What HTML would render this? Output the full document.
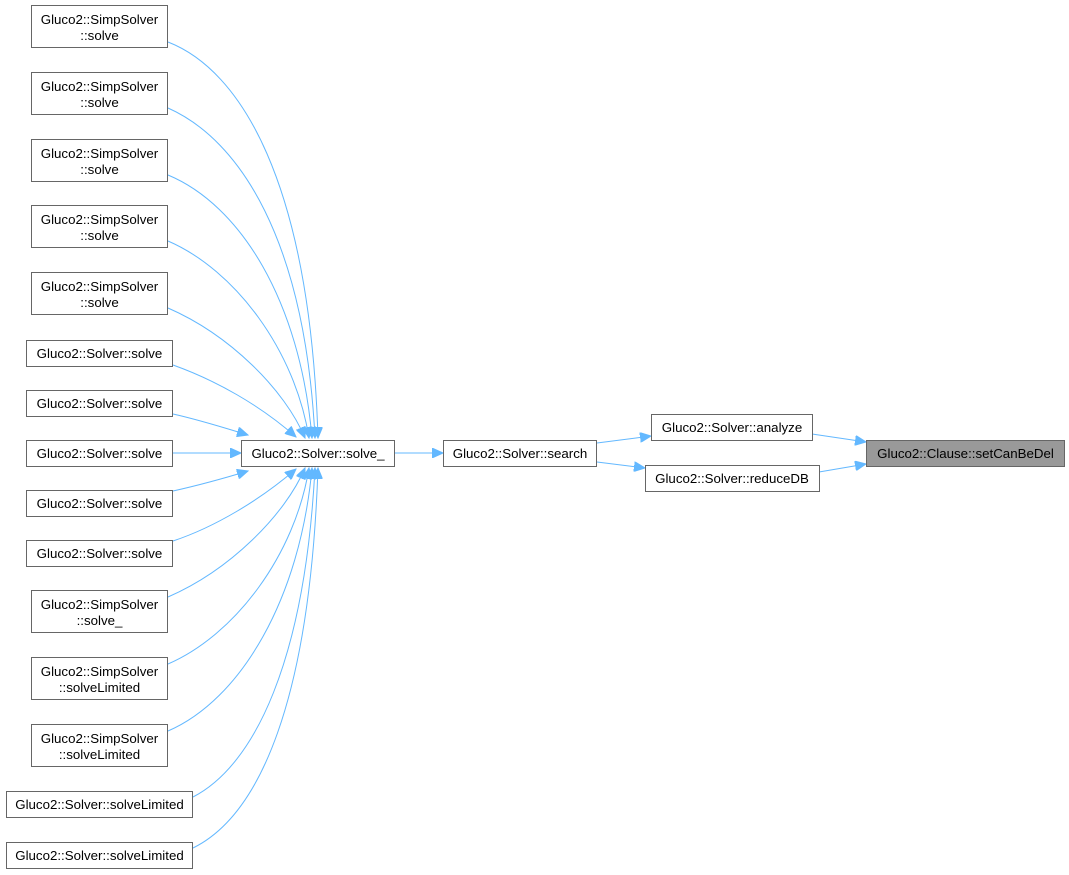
<!DOCTYPE html>
<html><head><meta charset="utf-8"><style>
html,body{margin:0;padding:0;background:#fff;}
svg{display:block}
text{font-family:"Liberation Sans",Arial,sans-serif;font-size:13.3px;fill:#000}
</style></head><body>
<svg width="1069" height="875" viewBox="0 0 1069 875" xmlns="http://www.w3.org/2000/svg">
<defs>
<marker id="a" markerWidth="12" markerHeight="10" refX="11" refY="5" orient="auto" markerUnits="userSpaceOnUse">
<path d="M0,0 L11,5 L0,10 z" fill="#63b8ff" stroke="#63b8ff"/>
</marker>
</defs>
<g fill="none" stroke="#63b8ff" stroke-width="1" marker-end="url(#a)">
<path d="M168,42 C240,70 310,180 318,438"/>
<path d="M168,108 C240,140 305,240 315,438"/>
<path d="M168,175 C240,205 300,300 312,438"/>
<path d="M168,241 C235,270 295,350 309,438"/>
<path d="M168,308 C230,335 285,390 305,438"/>
<path d="M173,365 C215,380 260,405 296,437"/>
<path d="M173,414 C200,420 225,428 248,435"/>
<path d="M173,453 L241,453"/>
<path d="M173,491 C200,485 225,478 248,471"/>
<path d="M173,541 C215,527 260,500 296,469"/>
<path d="M168,597 C230,570 285,515 305,468"/>
<path d="M168,664 C235,635 295,555 309,468"/>
<path d="M168,731 C240,700 300,600 312,468"/>
<path d="M193,797 C255,765 305,660 315,468"/>
<path d="M193,848 C260,815 310,700 318,468"/>
<path d="M395,453 L443,453"/>
<path d="M597,443 L651,436"/>
<path d="M597,462 L645,468"/>
<path d="M812,434 L866,442"/>
<path d="M819,472 L866,464"/>
</g>
<g stroke="#666" stroke-width="1" fill="#fff">
<rect x="31.5" y="5.5" width="136" height="42"/>
<rect x="31.5" y="72.5" width="136" height="42"/>
<rect x="31.5" y="139.5" width="136" height="42"/>
<rect x="31.5" y="205.5" width="136" height="42"/>
<rect x="31.5" y="272.5" width="136" height="42"/>
<rect x="26.5" y="340.5" width="146" height="26"/>
<rect x="26.5" y="390.5" width="146" height="26"/>
<rect x="26.5" y="440.5" width="146" height="26"/>
<rect x="26.5" y="490.5" width="146" height="26"/>
<rect x="26.5" y="540.5" width="146" height="26"/>
<rect x="31.5" y="590.5" width="136" height="42"/>
<rect x="31.5" y="657.5" width="136" height="42"/>
<rect x="31.5" y="724.5" width="136" height="42"/>
<rect x="6.5" y="791.5" width="186" height="26"/>
<rect x="6.5" y="842.5" width="186" height="26"/>
<rect x="241.5" y="440.5" width="153" height="26"/>
<rect x="443.5" y="440.5" width="153" height="26"/>
<rect x="651.5" y="414.5" width="161" height="26"/>
<rect x="645.5" y="465.5" width="174" height="26"/>
<rect x="866.5" y="440.5" width="198" height="26" fill="#999"/>
</g>
<g text-anchor="middle">
<text x="99.5" y="24">Gluco2::SimpSolver</text><text x="99.5" y="40">::solve</text>
<text x="99.5" y="91">Gluco2::SimpSolver</text><text x="99.5" y="107">::solve</text>
<text x="99.5" y="158">Gluco2::SimpSolver</text><text x="99.5" y="174">::solve</text>
<text x="99.5" y="224">Gluco2::SimpSolver</text><text x="99.5" y="240">::solve</text>
<text x="99.5" y="291">Gluco2::SimpSolver</text><text x="99.5" y="307">::solve</text>
<text x="99.5" y="358">Gluco2::Solver::solve</text>
<text x="99.5" y="408">Gluco2::Solver::solve</text>
<text x="99.5" y="458">Gluco2::Solver::solve</text>
<text x="99.5" y="508">Gluco2::Solver::solve</text>
<text x="99.5" y="558">Gluco2::Solver::solve</text>
<text x="99.5" y="609">Gluco2::SimpSolver</text><text x="99.5" y="625">::solve_</text>
<text x="99.5" y="676">Gluco2::SimpSolver</text><text x="99.5" y="692">::solveLimited</text>
<text x="99.5" y="743">Gluco2::SimpSolver</text><text x="99.5" y="759">::solveLimited</text>
<text x="99.5" y="809">Gluco2::Solver::solveLimited</text>
<text x="99.5" y="860">Gluco2::Solver::solveLimited</text>
<text x="318" y="458">Gluco2::Solver::solve_</text>
<text x="520" y="458">Gluco2::Solver::search</text>
<text x="732" y="432">Gluco2::Solver::analyze</text>
<text x="732" y="483">Gluco2::Solver::reduceDB</text>
<text x="965.5" y="458">Gluco2::Clause::setCanBeDel</text>
</g>
</svg>
</body></html>
